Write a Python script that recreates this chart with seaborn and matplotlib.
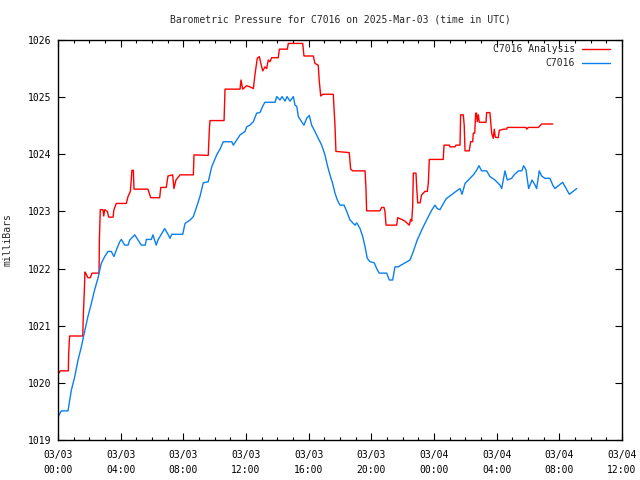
import numpy as np
import pandas as pd
import matplotlib
matplotlib.use("Agg")
import matplotlib.pyplot as plt
import matplotlib.dates as mdates
import seaborn as sns

# ---- data (hours since 2025-03-03 00:00 UTC, millibars) ----
analysis_hours = [0.00, 0.10, 0.13, 0.66, 0.68, 0.74, 1.58, 1.62, 1.68, 1.72, 1.80, 1.91, 2.06, 2.17, 2.62,
                  2.64, 2.70, 2.87, 2.92, 2.98, 3.15, 3.24, 3.51, 3.57, 3.72, 4.36, 4.47, 4.62, 4.72, 4.81,
                  4.85, 5.74, 5.85, 5.92, 6.49, 6.56, 6.91, 7.02, 7.32, 7.40, 7.53, 7.79, 8.64, 8.68, 9.59,
                  9.66, 9.70, 10.60, 10.66, 11.62, 11.68, 11.79, 12.04, 12.25, 12.47, 12.57, 12.72, 12.85,
                  13.00, 13.07, 13.21, 13.32, 13.42, 13.53, 13.64, 14.06, 14.13, 14.64, 14.70, 15.62, 15.70,
                  16.30, 16.40, 16.61, 16.68, 16.77, 16.90, 17.57, 17.68, 17.74, 18.59, 18.68, 18.81, 19.60,
                  19.66, 19.70, 20.55, 20.66, 20.81, 20.87, 20.94, 21.62, 21.68, 21.94, 22.15, 22.42, 22.51,
                  22.58, 22.64, 22.68, 22.85, 22.90, 22.96, 23.11, 23.21, 23.42, 23.57, 23.64, 23.70, 24.59,
                  24.64, 24.98, 25.02, 25.34, 25.40, 25.66, 25.70, 25.87, 25.93, 25.98, 26.25, 26.34, 26.47,
                  26.51, 26.60, 26.66, 26.72, 26.76, 26.83, 26.89, 27.32, 27.36, 27.57, 27.68, 27.78, 27.85,
                  27.91, 28.10, 28.17, 28.47, 28.64, 28.68, 29.87, 29.92, 30.02, 30.66, 30.87, 31.58]
analysis_mb = [1020.18, 1020.18, 1020.21, 1020.21, 1020.50, 1020.82, 1020.82, 1021.20, 1021.60, 1021.94,
               1021.90, 1021.84, 1021.84, 1021.92, 1021.92, 1022.50, 1023.03, 1023.03, 1022.92, 1023.03,
               1023.00, 1022.90, 1022.90, 1023.03, 1023.14, 1023.14, 1023.26, 1023.35, 1023.72, 1023.72,
               1023.39, 1023.39, 1023.30, 1023.24, 1023.24, 1023.42, 1023.42, 1023.62, 1023.64, 1023.40,
               1023.55, 1023.64, 1023.64, 1023.99, 1023.98, 1024.43, 1024.59, 1024.59, 1025.14, 1025.14,
               1025.30, 1025.14, 1025.20, 1025.18, 1025.15, 1025.39, 1025.68, 1025.71, 1025.53, 1025.46,
               1025.53, 1025.50, 1025.65, 1025.62, 1025.69, 1025.69, 1025.84, 1025.84, 1025.94, 1025.94,
               1025.72, 1025.72, 1025.59, 1025.56, 1025.27, 1025.02, 1025.05, 1025.05, 1024.50, 1024.05,
               1024.03, 1023.74, 1023.71, 1023.71, 1023.38, 1023.01, 1023.01, 1023.07, 1023.07, 1023.00,
               1022.76, 1022.76, 1022.89, 1022.86, 1022.83, 1022.76, 1022.86, 1022.83, 1023.10, 1023.67,
               1023.67, 1023.40, 1023.15, 1023.15, 1023.29, 1023.35, 1023.35, 1023.50, 1023.91, 1023.91,
               1024.16, 1024.16, 1024.13, 1024.13, 1024.16, 1024.16, 1024.69, 1024.69, 1024.50, 1024.06,
               1024.06, 1024.22, 1024.22, 1024.37, 1024.37, 1024.72, 1024.72, 1024.57, 1024.69, 1024.56,
               1024.56, 1024.73, 1024.73, 1024.37, 1024.28, 1024.44, 1024.30, 1024.29, 1024.42, 1024.44,
               1024.44, 1024.47, 1024.47, 1024.44, 1024.47, 1024.47, 1024.53, 1024.53]

obs_hours = [0.00, 0.21, 0.64, 0.85, 1.07, 1.28, 1.49, 1.70, 1.91, 2.13, 2.34, 2.55, 2.76, 2.98, 3.19,
             3.40, 3.57, 3.72, 3.94, 4.04, 4.26, 4.47, 4.58, 4.90, 5.11, 5.32, 5.57, 5.64, 5.96, 6.06,
             6.27, 6.38, 6.70, 6.81, 7.02, 7.15, 7.26, 7.96, 8.11, 8.43, 8.64, 8.85, 9.06, 9.27, 9.59,
             9.81, 10.13, 10.34, 10.55, 11.09, 11.19, 11.41, 11.62, 11.94, 12.04, 12.25, 12.47, 12.68,
             12.89, 13.10, 13.21, 13.85, 13.96, 14.17, 14.30, 14.49, 14.62, 14.81, 15.02, 15.13, 15.24,
             15.34, 15.55, 15.70, 15.87, 16.04, 16.19, 16.40, 16.61, 16.83, 17.04, 17.19, 17.36, 17.53,
             17.68, 17.83, 18.00, 18.26, 18.43, 18.64, 18.96, 19.07, 19.28, 19.45, 19.60, 19.74, 19.91,
             20.19, 20.34, 20.51, 20.98, 21.15, 21.36, 21.51, 21.72, 21.83, 22.47, 22.68, 22.93, 23.21,
             23.42, 23.64, 23.85, 24.06, 24.21, 24.38, 24.77, 25.40, 25.66, 25.79, 25.98, 26.19, 26.51,
             26.72, 26.87, 27.04, 27.36, 27.57, 27.89, 28.21, 28.32, 28.53, 28.68, 28.96, 29.11, 29.40,
             29.61, 29.72, 29.87, 30.04, 30.26, 30.45, 30.55, 30.72, 30.87, 31.08, 31.40, 31.58, 31.72,
             32.21, 32.64, 33.11]
obs_mb = [1019.40, 1019.51, 1019.51, 1019.87, 1020.11, 1020.40, 1020.63, 1020.90, 1021.16, 1021.39,
          1021.63, 1021.83, 1022.09, 1022.21, 1022.30, 1022.30, 1022.21, 1022.32, 1022.47, 1022.51,
          1022.41, 1022.41, 1022.50, 1022.59, 1022.50, 1022.41, 1022.41, 1022.51, 1022.51, 1022.59,
          1022.41, 1022.50, 1022.65, 1022.70, 1022.60, 1022.53, 1022.60, 1022.60, 1022.79, 1022.85,
          1022.91, 1023.08, 1023.26, 1023.50, 1023.52, 1023.78, 1023.99, 1024.09, 1024.22, 1024.22,
          1024.16, 1024.25, 1024.34, 1024.40, 1024.48, 1024.51, 1024.57, 1024.72, 1024.73, 1024.86,
          1024.91, 1024.91, 1025.01, 1024.95, 1025.01, 1024.93, 1025.01, 1024.93, 1025.01, 1024.86,
          1024.84, 1024.66, 1024.57, 1024.51, 1024.63, 1024.68, 1024.51, 1024.40, 1024.28, 1024.16,
          1023.99, 1023.81, 1023.64, 1023.49, 1023.32, 1023.20, 1023.11, 1023.11, 1023.00, 1022.85,
          1022.76, 1022.80, 1022.70, 1022.56, 1022.38, 1022.18, 1022.12, 1022.10, 1022.00, 1021.92,
          1021.92, 1021.80, 1021.80, 1022.03, 1022.03, 1022.05, 1022.15, 1022.30, 1022.50, 1022.67,
          1022.79, 1022.91, 1023.02, 1023.11, 1023.05, 1023.03, 1023.22, 1023.35, 1023.40, 1023.30,
          1023.49, 1023.55, 1023.64, 1023.72, 1023.80, 1023.71, 1023.71, 1023.61, 1023.55, 1023.46,
          1023.40, 1023.71, 1023.55, 1023.58, 1023.64, 1023.71, 1023.71, 1023.80, 1023.73, 1023.40,
          1023.55, 1023.46, 1023.40, 1023.71, 1023.62, 1023.58, 1023.58, 1023.46, 1023.40, 1023.51,
          1023.30, 1023.40]

series_labels = ["C7016 Analysis", "C7016"]
title = "Barometric Pressure for C7016 on 2025-Mar-03 (time in UTC)"
ylabel = "milliBars"

base = pd.Timestamp("2025-03-03 00:00")
df_a = pd.DataFrame({"time": base + pd.to_timedelta(analysis_hours, unit="h"), "mb": analysis_mb})
df_o = pd.DataFrame({"time": base + pd.to_timedelta(obs_hours, unit="h"), "mb": obs_mb})

sns.set_style("ticks")
plt.rcParams["font.family"] = ["DejaVu Sans Mono", "DejaVu Sans"]

fig = plt.figure(figsize=(6.4, 4.8), dpi=100)
ax = fig.add_axes([58 / 640, 1 - 440 / 480, 564 / 640, 400 / 480])

sns.lineplot(data=df_a, x="time", y="mb", ax=ax, color="#ff0000", linewidth=1.0,
             estimator=None, label=series_labels[0])
sns.lineplot(data=df_o, x="time", y="mb", ax=ax, color="#0a7ff0", linewidth=1.0,
             estimator=None, label=series_labels[1])

ax.set_xlim(base, base + pd.Timedelta(hours=36))
ax.set_ylim(1019, 1026)
ax.set_yticks(np.arange(1019, 1027, 1))
ax.xaxis.set_major_locator(mdates.HourLocator(byhour=[0, 4, 8, 12, 16, 20]))
ax.xaxis.set_minor_locator(mdates.HourLocator())
ax.xaxis.set_major_formatter(mdates.DateFormatter("%m/%d\n%H:%M"))

for s in ax.spines.values():
    s.set_visible(True)
    s.set_linewidth(1.0)
    s.set_color("black")
ax.tick_params(which="both", direction="in", top=True, right=True, labelsize=7, colors="black")
ax.tick_params(which="major", length=5, width=0.8)
ax.tick_params(which="minor", length=2.5, width=0.8)
ax.tick_params(axis="x", which="major", pad=7)
ax.tick_params(axis="y", which="major", pad=5)
for lbl in ax.get_xticklabels():
    lbl.set_linespacing(1.6)

ax.set_xlabel("")
ax.set_ylabel(ylabel, fontsize=7, labelpad=11)
ax.grid(False)

fig.text(340 / 640, 1 - 19 / 480, title, ha="center", va="center", fontsize=7)

ax.legend(loc="upper right", bbox_to_anchor=((610 - 58) / 564, (440 - 44) / 400),
          frameon=False, markerfirst=False, fontsize=7, handlelength=2.9,
          handletextpad=0.7, labelspacing=0.45, borderaxespad=0, borderpad=0)

fig.savefig("out.png", dpi=100)
